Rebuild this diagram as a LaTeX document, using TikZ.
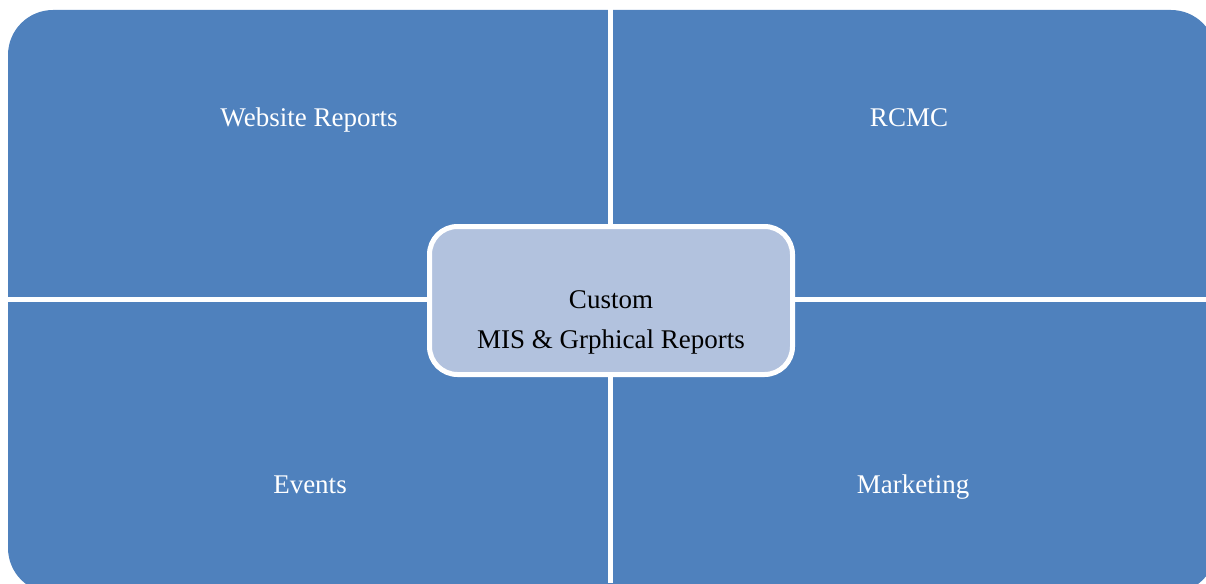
\documentclass[tikz,border=0pt]{standalone}
\usepackage{fontspec}
\setmainfont{Liberation Serif}
\usepackage{tikz}
\definecolor{quadblue}{RGB}{79,129,189}
\definecolor{hubblue}{RGB}{178,194,222}
\tikzstyle{quad}=[fill=quadblue, rounded corners=45pt]
\tikzstyle{gap}=[white, line width=5pt]
\tikzstyle{quadtext}=[text=white, text height=0.66em, text depth=0.22em, font=\fontsize{27}{40}\selectfont]
\tikzstyle{hub}=[draw=white, line width=5pt, fill=hubblue, rounded corners=28pt, minimum width=363pt, minimum height=148pt]
\tikzstyle{hubtext}=[text=black, align=center, font=\fontsize{27}{40}\selectfont]

\begin{document}
\begin{tikzpicture}[x=1pt, y=-1pt]
			\useasboundingbox (0,0) rectangle (1206,583);
			\clip (0,0) rectangle (1206,583);

			% Quadrants
			\fill[quad] (8,10) rectangle (1216,593);
			\draw[gap] (610.5,0) -- (610.5,583);
			\draw[gap] (0,299.5) -- (1206,299.5);

			\node[quadtext] (web) at (309,124) {Website Reports};
			\node[quadtext] (rcmc) at (909,124) {RCMC};
			\node[quadtext] (events) at (310,491) {Events};
			\node[quadtext] (mkt) at (913,491) {Marketing};

			% Center
			\node[hub] (hub) at (611,300.5) {};
			\node[hubtext] (custom) at (611,322) {Custom\\MIS \& Grphical Reports};
		\end{tikzpicture}
\end{document}
